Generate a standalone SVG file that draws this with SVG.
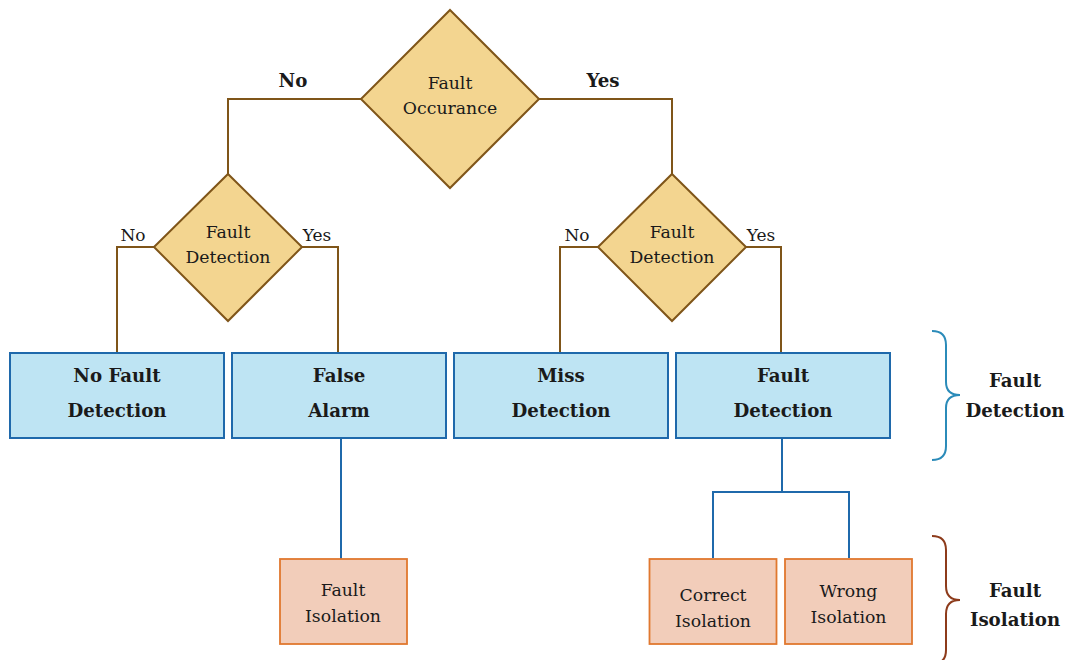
<svg xmlns="http://www.w3.org/2000/svg" width="1070" height="660" viewBox="0 0 1070 660">
<style>
text{font-family:"DejaVu Serif",serif;fill:#1a1a1a;text-anchor:middle}
.t{font-size:17.3px}
.tb{font-size:18.2px;font-weight:bold}
.s{font-size:17px}
.dia{fill:#f3d590;stroke:#7f5519;stroke-width:2}
.blue{fill:#bee4f3;stroke:#1f69ab;stroke-width:2}
.org{fill:#f2cdba;stroke:#e0782f;stroke-width:1.8}
.cb{fill:none;stroke:#7f5519;stroke-width:2}
.cl{fill:none;stroke:#1f69ab;stroke-width:2}
</style>
<rect width="1070" height="660" fill="#fff"/>
<g id="connectors">
<polyline class="cb" points="361,99 228,99 228,174"/>
<polyline class="cb" points="539,99 672,99 672,174"/>
<polyline class="cb" points="154,247 117,247 117,352"/>
<polyline class="cb" points="302,247 338,247 338,352"/>
<polyline class="cb" points="598,247 560,247 560,352"/>
<polyline class="cb" points="746,247 781,247 781,352"/>
<polyline class="cl" points="341,438 341,559"/>
<polyline class="cl" points="782,438 782,492"/>
<polyline class="cl" points="713,558 713,492 849,492 849,558"/>
<text class="tb" x="293" y="87">No</text>
<text class="tb" x="603" y="87">Yes</text>
<text class="s" x="133" y="241">No</text>
<text class="s" x="317" y="241">Yes</text>
<text class="s" x="577" y="241">No</text>
<text class="s" x="761" y="241">Yes</text>
</g>
<g id="fault-occurance">
<polygon class="dia" points="450,10 539,99 450,188 361,99"/>
<text class="t" x="450" y="89">Fault</text>
<text class="t" x="450" y="114">Occurance</text>
</g>
<g id="fault-detection-left">
<polygon class="dia" points="228,174 302,247 228,321 154,247"/>
<text class="t" x="228" y="238">Fault</text>
<text class="t" x="228" y="263">Detection</text>
</g>
<g id="fault-detection-right">
<polygon class="dia" points="672,174 746,247 672,321 598,247"/>
<text class="t" x="672" y="238">Fault</text>
<text class="t" x="672" y="263">Detection</text>
</g>
<g id="no-fault-detection">
<rect class="blue" x="10" y="353" width="214" height="85"/>
<text class="tb" x="117" y="382">No Fault</text>
<text class="tb" x="117" y="417">Detection</text>
</g>
<g id="false-alarm">
<rect class="blue" x="232" y="353" width="214" height="85"/>
<text class="tb" x="339" y="382">False</text>
<text class="tb" x="339" y="417">Alarm</text>
</g>
<g id="miss-detection">
<rect class="blue" x="454" y="353" width="214" height="85"/>
<text class="tb" x="561" y="382">Miss</text>
<text class="tb" x="561" y="417">Detection</text>
</g>
<g id="fault-detection-box">
<rect class="blue" x="676" y="353" width="214" height="85"/>
<text class="tb" x="783" y="382">Fault</text>
<text class="tb" x="783" y="417">Detection</text>
</g>
<g id="fault-isolation">
<rect class="org" x="280" y="559" width="127" height="85"/>
<text class="t" x="343" y="596">Fault</text>
<text class="t" x="343" y="622">Isolation</text>
</g>
<g id="correct-isolation">
<rect class="org" x="649.5" y="559" width="127" height="85"/>
<text class="t" x="713" y="601">Correct</text>
<text class="t" x="713" y="627">Isolation</text>
</g>
<g id="wrong-isolation">
<rect class="org" x="785" y="559" width="127" height="85"/>
<text class="t" x="848.5" y="597">Wrong</text>
<text class="t" x="848.5" y="623">Isolation</text>
</g>
<g id="brace-detection">
<path d="M932,331 Q946,331 946,345 L946,382 Q946,395 960,395 Q946,395 946,408 L946,446 Q946,460 932,460" fill="none" stroke="#2b8bb9" stroke-width="2"/>
<text class="tb" x="1015" y="387">Fault</text>
<text class="tb" x="1015" y="417">Detection</text>
</g>
<g id="brace-isolation">
<path d="M932,536 Q946,536 946,550 L946,586 Q946,600 960,600 Q946,600 946,614 L946,650 Q946,664 932,664" fill="none" stroke="#8d3b1b" stroke-width="2"/>
<text class="tb" x="1015" y="597">Fault</text>
<text class="tb" x="1015" y="626">Isolation</text>
</g>
</svg>
